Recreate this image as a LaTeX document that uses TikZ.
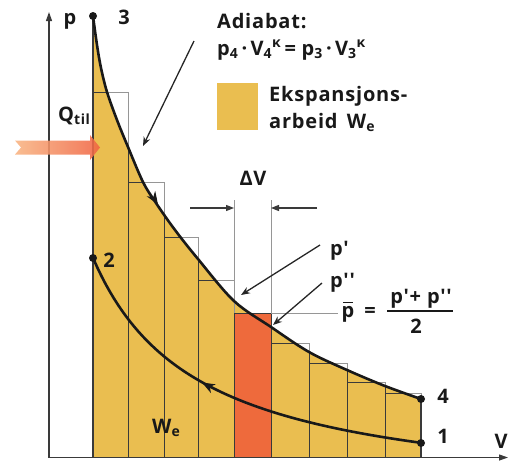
\documentclass[tikz,border=0pt]{standalone}
\usepackage{fontspec}
\setmainfont{Open Sans}[LetterSpace=4,Ligatures=TeXOff]
\usetikzlibrary{arrows.meta}
\definecolor{yel}{RGB}{234,190,80}
\definecolor{redS}{RGB}{238,106,60}
\definecolor{qL}{RGB}{248,180,130}
\definecolor{qR}{RGB}{240,100,66}
\definecolor{gline}{RGB}{150,150,150}
\definecolor{dline}{RGB}{58,58,58}
\definecolor{txt}{RGB}{25,25,25}
\begin{document}
\begin{tikzpicture}[x=1pt,y=-1pt,
  lbl/.style={font=\bfseries\fontsize{20}{24}\selectfont, inner sep=0pt, text=txt},
  thingray/.style={draw=gline, line width=0.9pt},
  thindark/.style={draw=dline, line width=0.9pt},
  axisline/.style={draw=dline, line width=1.2pt, -{Triangle[length=9pt,width=6pt]}},
  curveline/.style={draw=black!90, line width=2.6pt},
  ann/.style={draw=black!85, line width=1.3pt, -{Stealth[length=9pt,width=7pt]}},
  dimarrow/.style={draw=dline, line width=1.2pt, -{Triangle[length=8pt,width=6pt]}},
  dot/.style={circle, fill=black!90, inner sep=0pt, minimum size=8pt}]
\useasboundingbox (0,0) rectangle (521,461);

% yellow work area under adiabat
\fill[yel] (93,457) -- plot[smooth,tension=0.55] coordinates {(93,16) (97,45) (101,68) (107,92) (117,120) (128,147) (143,182) (156,203) (175,230) (198,259) (234,301) (271,327) (309,352) (347,370) (385,386) (421,399)} -- (421,457) -- cycle;

% red strip
\fill[redS] (234,313) rectangle (271,457);

% strip outlines (grey above curve)
\foreach \xa/\xb/\t in {93/128/92,128/164/182,164/198/237,198/234/280,234/271/313,271/309/343,309/347/363,347/385/382,385/421/393}
  \draw[thingray] (\xa,\t) rectangle (\xb,457);

% dark inside yellow
\begin{scope}
\clip (93,457) -- plot[smooth,tension=0.55] coordinates {(93,16) (97,45) (101,68) (107,92) (117,120) (128,147) (143,182) (156,203) (175,230) (198,259) (234,301) (271,327) (309,352) (347,370) (385,386) (421,399)} -- (421,457) -- cycle;
\foreach \xa/\xb/\t in {93/128/92,128/164/182,164/198/237,198/234/280,234/271/313,271/309/343,309/347/363,347/385/382,385/421/393}
  \draw[thindark] (\xa,\t) rectangle (\xb,457);
\end{scope}
\draw[thindark] (234,313) rectangle (271,457);

% Delta V extension lines and p-bar line
\draw[thingray] (234,200) -- (234,313);
\draw[thingray] (271,200) -- (271,313);
\draw[thingray] (271,313) -- (338,313);

% edges
\draw[draw=dline, line width=1.2pt] (93,16) -- (93,457);
\draw[draw=dline, line width=1.2pt] (421,399) -- (421,457);

% axes
\coordinate (O) at (49,457.5);
\coordinate (pTop) at (49,12);
\coordinate (vEnd) at (508,457.5);
\draw[axisline] (O) -- (pTop);
\draw[axisline] (O) -- (vEnd);

% heat input arrow
\shade[left color=qL, right color=qR, opacity=0.88]
  (15,140.5) -- (90,140.5) -- (90,135) -- (100,147.5) -- (90,160) -- (90,154.5) -- (15,154.5) -- (21,147.5) -- cycle;

% state points
\node[dot] (P3) at (93,16) {};
\node[dot] (P2) at (93,258) {};
\node[dot] (P4) at (421,399) {};
\node[dot] (P1) at (421,443) {};

% curves
\draw[curveline] plot[smooth,tension=0.55] coordinates {(93,16) (97,45) (101,68) (107,92) (117,120) (128,147) (143,182) (156,203) (175,230) (198,259) (234,301) (271,327) (309,352) (347,370) (385,386) (421,399)};
\draw[curveline] plot[domain=93:421, samples=80] (\x, {457-(256.2/((\x+12)*0.01)-45)});

% direction arrows on curves
\coordinate (aA) at (153.5,197.5);
\coordinate (aB) at (158,204.5);
\draw[draw=black!90, line width=1pt, -{Stealth[length=13pt,width=10pt]}] (aA) -- (aB);
\coordinate (bA) at (208,385.8);
\coordinate (bB) at (202,382.5);
\draw[draw=black!90, line width=1pt, -{Stealth[length=13pt,width=10pt]}] (bA) -- (bB);

% labels
\node[lbl, anchor=base] (plab) at (70,24) {p};
\node[lbl, anchor=base] (n3) at (124,24) {3};
\node[lbl, anchor=base] (n2) at (109,267) {2};
\node[lbl, anchor=base] (n4) at (443,403) {4};
\node[lbl, anchor=base] (n1) at (443,443) {1};
\node[lbl, anchor=base] (vlab) at (501,448) {V};
\node[lbl, anchor=base west] (we) at (152,433) {W\textsubscript{e}};
\node[lbl, anchor=base west] (qtil) at (58,121) {Q\textsubscript{til}};

\node[lbl, anchor=base west] (adia) at (217,28) {Adiabat:};
\node[lbl, anchor=base west] (form) at (217,55) {p\textsubscript{4}\,·\,V\textsubscript{4}\textsuperscript{κ}\,=\;p\textsubscript{3}\,·\,V\textsubscript{3}\textsuperscript{κ}};
\node[fill=yel, inner sep=0pt, minimum width=41pt, minimum height=47pt, anchor=north west] (legsq) at (217,83) {};
\node[lbl, anchor=base west] (leg1) at (269,101) {Ekspansjons-};
\node[lbl, anchor=base west] (leg2) at (269,128) {arbeid\, W\textsubscript{e}};

\node[lbl, anchor=base] (dv) at (253,185) {ΔV};
\node[lbl, anchor=base west] (pp1) at (330,255) {p'};
\node[lbl, anchor=base west] (pp2) at (330,287) {p''};
\node[lbl, anchor=base] (pbar) at (348,317) {p};
\draw[draw=txt, line width=1.3pt] ([xshift=-5pt,yshift=3.5pt]pbar.north) -- ([xshift=5pt,yshift=3.5pt]pbar.north);
\node[lbl, anchor=base] (eq) at (370,317) {=};
\node[lbl, anchor=base] (numer) at (421,303) {p'+ p''};
\node[lbl, anchor=base] (den) at (416,333) {2};
\coordinate (fbL) at (387,311);
\coordinate (fbR) at (453,311);
\draw[draw=txt, line width=1.2pt] (fbL) -- (fbR);

% annotation arrows
\coordinate (adS) at (194,41);
\coordinate (adE) at (143,146);
\draw[ann] (adS) -- (adE);
\coordinate (p1S) at (320,245);
\coordinate (p1E) at (241,295);
\draw[ann] (p1S) -- (p1E);
\coordinate (p2S) at (322,283);
\coordinate (p2E) at (273,325);
\draw[ann] (p2S) -- (p2E);
\coordinate (dl1) at (190,208);
\coordinate (dl2) at (234,208);
\draw[dimarrow] (dl1) -- (dl2);
\coordinate (dr1) at (317,208);
\coordinate (dr2) at (271,208);
\draw[dimarrow] (dr1) -- (dr2);
\end{tikzpicture}
\end{document}
